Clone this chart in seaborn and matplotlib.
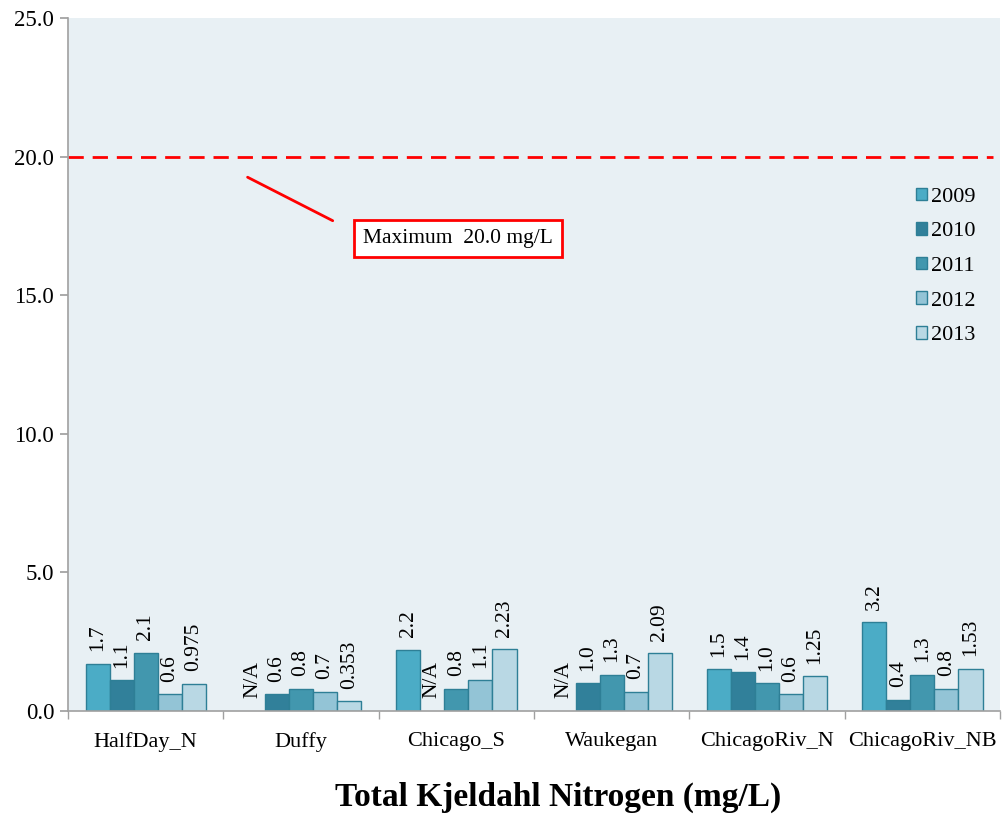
import numpy as np
import pandas as pd
import matplotlib
matplotlib.use("Agg")
import matplotlib.pyplot as plt
import seaborn as sns

# data
sites = ["HalfDay_N", "Duffy", "Chicago_S", "Waukegan", "ChicagoRiv_N", "ChicagoRiv_NB"]
years = ["2009", "2010", "2011", "2012", "2013"]
tkn_2009 = [1.7, np.nan, 2.2, np.nan, 1.5, 3.2]
tkn_2010 = [1.1, 0.6, np.nan, 1.0, 1.4, 0.4]
tkn_2011 = [2.1, 0.8, 0.8, 1.3, 1.0, 1.3]
tkn_2012 = [0.6, 0.7, 1.1, 0.7, 0.6, 0.8]
tkn_2013 = [0.975, 0.353, 2.23, 2.09, 1.25, 1.53]
max_limit = 20.0

colors = ["#4BACC6", "#31809A", "#4297AE", "#93C4D6", "#B9D8E4"]

sns.set_theme(style="white")
plt.rcParams["font.family"] = ["Liberation Serif", "DejaVu Serif"]
plt.rcParams["text.color"] = "black"
plt.rcParams["xtick.labelcolor"] = "black"
plt.rcParams["ytick.labelcolor"] = "black"

series = [tkn_2009, tkn_2010, tkn_2011, tkn_2012, tkn_2013]
rows = []
for yr, vals in zip(years, series):
    for s, v in zip(sites, vals):
        rows.append({"site": s, "year": yr, "value": v})
df = pd.DataFrame(rows)
df["plotval"] = df["value"].fillna(0)

fig = plt.figure(figsize=(10.05, 8.16), dpi=100)
ax = fig.add_axes([0.0677, 0.1287, 0.9273, 0.8493])
ax.set_facecolor("#E8F0F4")

sns.barplot(data=df, x="site", y="plotval", hue="year", order=sites, hue_order=years,
            palette=colors, saturation=1, width=0.775, edgecolor="#2E7F96", linewidth=1.0,
            errorbar=None, ax=ax)

# labels above bars, N/A where no data
for cont, yr, vals in zip(ax.containers, years, series):
    labs = []
    for p, v in zip(cont, vals):
        if np.isnan(v):
            p.set_linewidth(0)
            labs.append("N/A")
        else:
            labs.append(f"{v:g}" if yr == "2013" else f"{v:.1f}")
    ax.bar_label(cont, labels=labs, rotation=90, padding=9, fontsize=15.5)

ax.axhline(max_limit, xmax=0.993, color="#FF0000", lw=2, ls=(0, (5.5, 3.2)))
ax.annotate("", xy=(0.64, 19.3), xytext=(1.22, 17.64),
            arrowprops=dict(arrowstyle="-", color="#FF0000", lw=2))
ax.text(2.008, 17.06, "Maximum  20.0 mg/L", fontsize=15.5, ha="center", va="center",
        bbox=dict(boxstyle="square,pad=0.42", fc="white", ec="#FF0000", lw=2))

ax.set_ylim(0, 25)
ax.set_xlim(-0.5, len(sites) - 0.5)
ax.set_yticks(np.arange(0, 26, 5))
ax.set_yticklabels([f"{t:.1f}" for t in np.arange(0, 26, 5)], fontsize=16.5)
ax.set_xlabel("")
ax.set_ylabel("")
ax.tick_params(axis="x", which="major", length=0, pad=15, labelsize=16)
ax.set_xticks(np.arange(-0.5, len(sites)), minor=True)
ax.tick_params(axis="x", which="minor", length=6, color="#A0A0A0", direction="out", bottom=True)
ax.tick_params(axis="y", length=6, color="#A0A0A0", direction="out", left=True, pad=4)
for sp in ["top", "right"]:
    ax.spines[sp].set_visible(False)
for sp in ["left", "bottom"]:
    ax.spines[sp].set_color("#A0A0A0")
    ax.spines[sp].set_linewidth(1.2)

handles, labels = ax.get_legend_handles_labels()
ax.legend(handles, labels, loc="upper left", bbox_to_anchor=(0.9, 0.768), frameon=False,
          fontsize=16, handlelength=0.5, handleheight=0.5, handletextpad=0.2,
          labelspacing=0.69, borderaxespad=0)

fig.text(0.555, 0.004, "Total Kjeldahl Nitrogen (mg/L)", ha="center", va="bottom",
         fontsize=24, fontweight="bold")

fig.savefig("out.png", dpi=100)
